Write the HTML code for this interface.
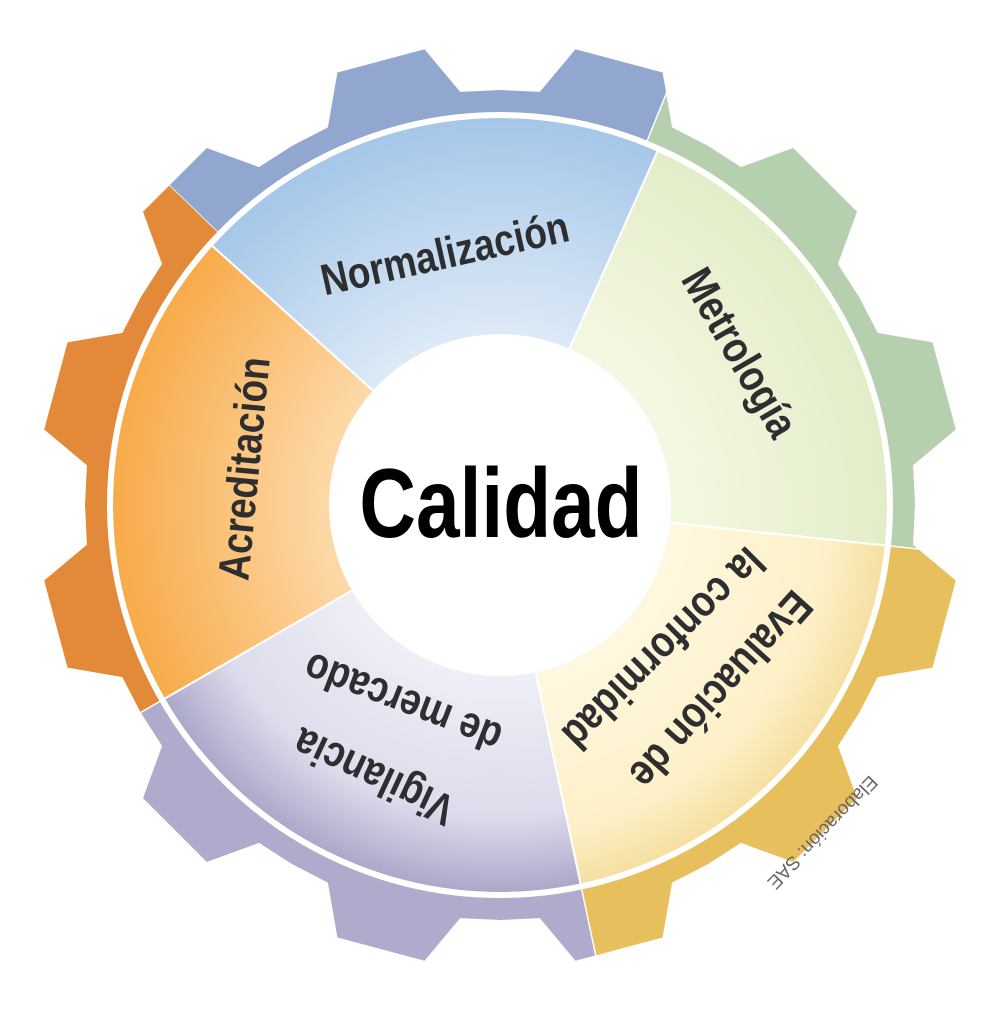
<!DOCTYPE html>
<html><head><meta charset="utf-8"><style>
html,body{margin:0;padding:0;background:#fff;}
svg{display:block}
.l{font-family:"Liberation Sans",sans-serif;font-weight:bold;fill:#2e2e30;}
</style></head><body>
<svg id="s" width="1001" height="1009" viewBox="0 0 1001 1009" xmlns="http://www.w3.org/2000/svg">
<defs>
<radialGradient id="gB" gradientUnits="userSpaceOnUse" cx="500" cy="505" r="390"><stop offset="0.45" stop-color="#dce9f7"/><stop offset="1" stop-color="#a4c6e8"/></radialGradient>
<radialGradient id="gG" gradientUnits="userSpaceOnUse" cx="500" cy="505" r="390"><stop offset="0.45" stop-color="#f4f8e2"/><stop offset="1" stop-color="#e2edc8"/></radialGradient>
<radialGradient id="gY" gradientUnits="userSpaceOnUse" cx="500" cy="505" r="390"><stop offset="0.45" stop-color="#fff8e0"/><stop offset="0.85" stop-color="#fdf0c8"/><stop offset="1" stop-color="#f5dfa0"/></radialGradient>
<radialGradient id="gP" gradientUnits="userSpaceOnUse" cx="500" cy="505" r="390"><stop offset="0.45" stop-color="#eeeef6"/><stop offset="0.8" stop-color="#dcdcec"/><stop offset="1" stop-color="#aaa6c8"/></radialGradient>
<radialGradient id="gO" gradientUnits="userSpaceOnUse" cx="500" cy="505" r="390"><stop offset="0.45" stop-color="#fdd8a6"/><stop offset="1" stop-color="#f8aa48"/></radialGradient>
</defs>
<g id="gear"></g>
<g id="sec"></g>
<circle cx="500" cy="505" r="390" fill="none" stroke="#fff" stroke-width="6"/>
<circle cx="500" cy="505" r="170" fill="#fff"/>
<text class="l" font-size="98" text-anchor="middle" transform="translate(501 537) scale(0.8 1)" style="fill:#000">Calidad</text>
<text class="l" font-size="44" text-anchor="middle" transform="translate(448 268) rotate(-12.6) scale(0.84 1)">Normalización</text>
<text class="l" font-size="44" text-anchor="middle" transform="translate(727 360) rotate(60) scale(0.84 1)">Metrología</text>
<text class="l" font-size="44" text-anchor="middle" transform="translate(710 680) rotate(132) scale(0.84 1)">Evaluación de</text>
<text class="l" font-size="44" text-anchor="middle" transform="translate(653 638) rotate(135) scale(0.84 1)">la conformidad</text>
<text class="l" font-size="44" text-anchor="middle" transform="translate(380 763) rotate(205) scale(0.84 1)">Vigilancia</text>
<text class="l" font-size="44" text-anchor="middle" transform="translate(408 689) rotate(201) scale(0.84 1)">de mercado</text>
<text class="l" font-size="44" text-anchor="middle" transform="translate(259 470) rotate(-84.5) scale(0.84 1)">Acreditación</text>
<text font-family="Liberation Sans,sans-serif" font-size="19" fill="#666" text-anchor="middle" transform="translate(818 828) rotate(134)">Elaboración: SAE</text>
</svg>
<script>
(function(){
var cx=500,cy=505,NS="http://www.w3.org/2000/svg";
function P(r,a){a=a*Math.PI/180;return [cx+r*Math.sin(a),cy-r*Math.cos(a)];}
var pts=[];
for(var i=0;i<12;i++){var c=15+30*i;
 [[415,c-15],[415,c-9.5],[462,c-5.6],[462,c+5.6],[415,c+9.5]].forEach(function(q){pts.push(P(q[0],q[1]));});}
var gd="M"+pts.map(function(p){return p[0].toFixed(1)+","+p[1].toFixed(1)}).join("L")+"Z";
var secs=[[-46,22,"#92a7cf","url(#gB)",-48,24],[22,96,"#b6cfae","url(#gG)",24,96],[96,168,"#e7bf5c","url(#gY)",96,168],[168,240,"#afabcc","url(#gP)",168,240],[240,314,"#e38a3a","url(#gO)",240,312]];
var g=document.getElementById("gear"),s=document.getElementById("sec"),defs=document.querySelector("defs");
secs.forEach(function(z,k){
 var a=P(800,z[0]),m=P(800,(z[0]+z[1])/2),b=P(800,z[1]);
 var cp=document.createElementNS(NS,"clipPath");cp.setAttribute("id","c"+k);
 var pp=document.createElementNS(NS,"path");pp.setAttribute("d","M"+cx+","+cy+"L"+a+"L"+m+"L"+b+"Z");cp.appendChild(pp);defs.appendChild(cp);
 var gp=document.createElementNS(NS,"path");gp.setAttribute("d",gd);gp.setAttribute("fill",z[2]);gp.setAttribute("clip-path","url(#c"+k+")");g.appendChild(gp);
 var R=388,r=170,o1=P(R,z[4]),o2=P(R,z[5]),i1=P(r,z[5]),i2=P(r,z[4]);
 var sp=document.createElementNS(NS,"path");
 sp.setAttribute("d","M"+i2+"L"+o1+"A"+R+","+R+" 0 0 1 "+o2+"L"+i1+"A"+r+","+r+" 0 0 0 "+i2+"Z");
 sp.setAttribute("fill",z[3]);sp.setAttribute("stroke","#fff");sp.setAttribute("stroke-width","2");s.appendChild(sp);
 var ln=document.createElementNS(NS,"line");var q1=P(388,z[0]),q2=P(470,z[0]);
 ln.setAttribute("x1",q1[0]);ln.setAttribute("y1",q1[1]);ln.setAttribute("x2",q2[0]);ln.setAttribute("y2",q2[1]);
 ln.setAttribute("stroke","#fff");ln.setAttribute("stroke-width","1.5");g.appendChild(ln);
});
})();
</script>
</body></html>
